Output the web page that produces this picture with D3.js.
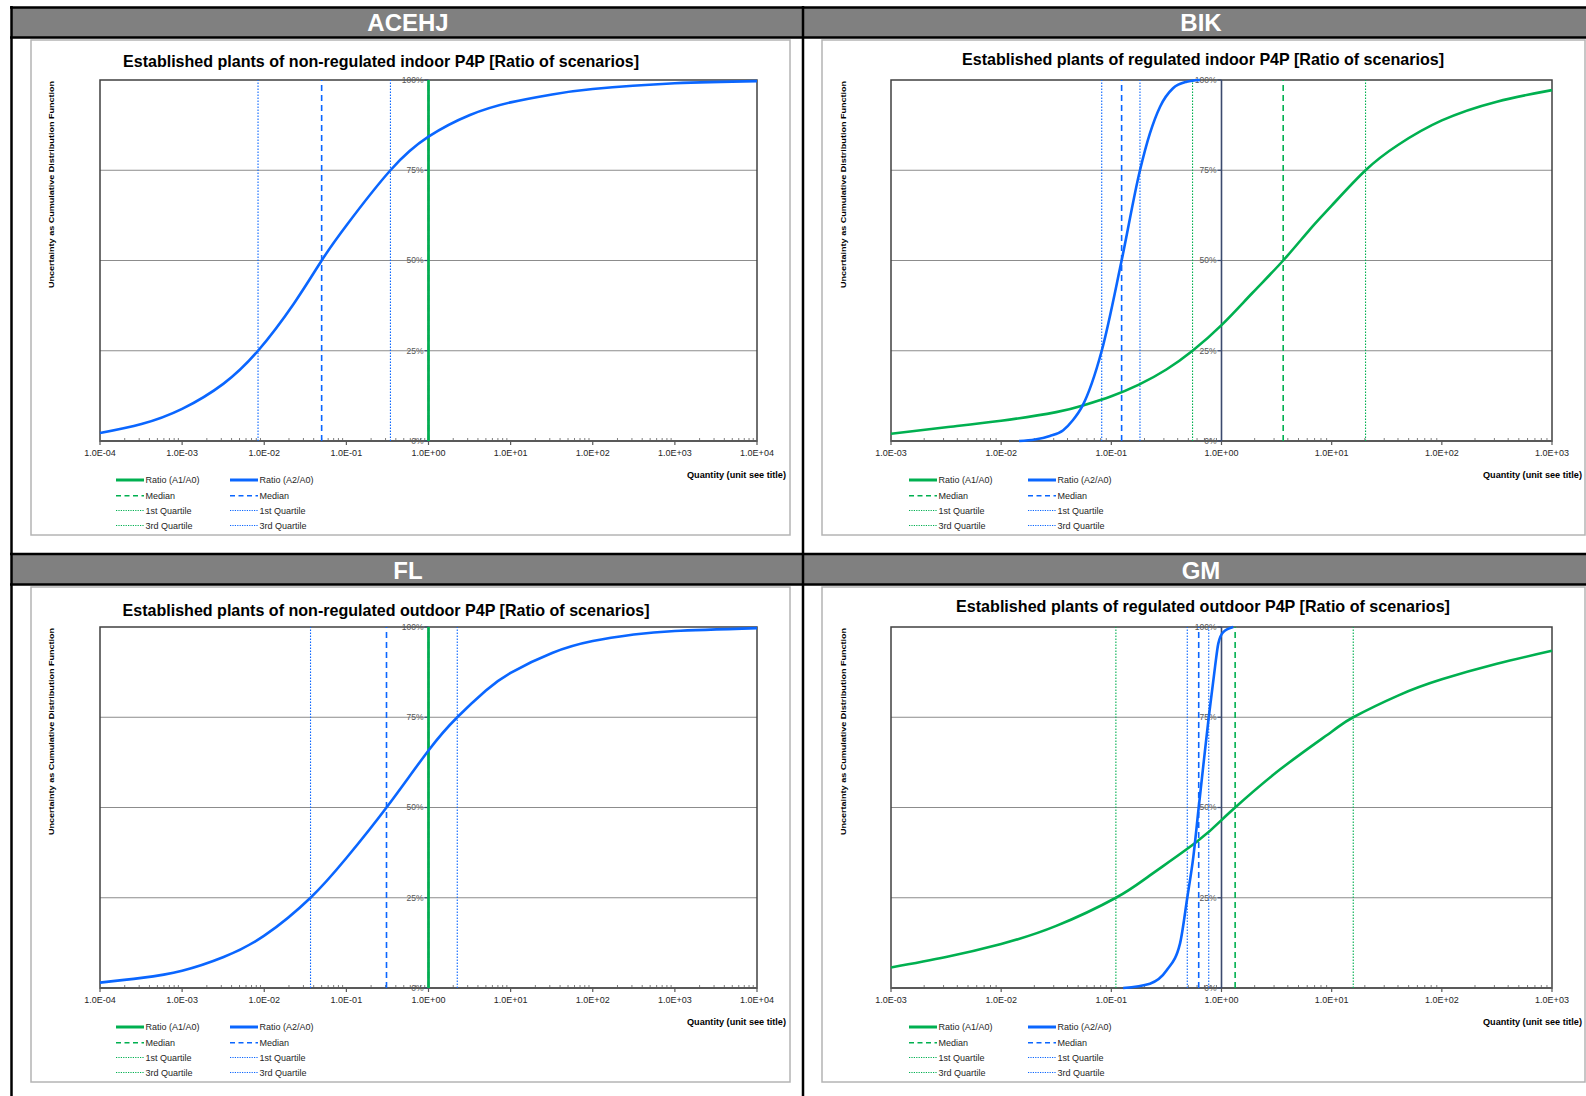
<!DOCTYPE html>
<html><head><meta charset="utf-8">
<script src="https://cdn.jsdelivr.net/npm/d3@7"></script>
<style>body{margin:0;background:#fff;} svg{display:block;} text{font-family:'Liberation Sans',Arial,sans-serif;}</style>
</head><body><svg id="c" width="1586" height="1096"></svg>
<script>
// ---------------- DATA ----------------
const panelNames = ["ACEHJ", "BIK", "FL", "GM"];
const chartTitles = [
  "Established plants of non-regulated indoor P4P [Ratio of scenarios]",
  "Established plants of regulated indoor P4P [Ratio of scenarios]",
  "Established plants of non-regulated outdoor P4P [Ratio of scenarios]",
  "Established plants of regulated outdoor P4P [Ratio of scenarios]"
];
const seriesNames = ["Ratio (A1/A0)", "Ratio (A2/A0)"];
const statNames = ["Median", "1st Quartile", "3rd Quartile"];
const yAxisTitle = "Uncertainty as  Cumulative Distribution Function";
const xAxisTitle = "Quantity (unit see title)";
const yTickValues = [0, 0.25, 0.5, 0.75, 1];
const yTickLabels = ["0%", "25%", "50%", "75%", "100%"];
const xTickValuesWide = [1e-4, 1e-3, 1e-2, 1e-1, 1, 1e1, 1e2, 1e3, 1e4];
const xTickLabelsWide = ["1.0E-04", "1.0E-03", "1.0E-02", "1.0E-01", "1.0E+00", "1.0E+01", "1.0E+02", "1.0E+03", "1.0E+04"];
const xTickValuesNarrow = [1e-3, 1e-2, 1e-1, 1, 1e1, 1e2, 1e3];
const xTickLabelsNarrow = ["1.0E-03", "1.0E-02", "1.0E-01", "1.0E+00", "1.0E+01", "1.0E+02", "1.0E+03"];

// ACEHJ  (A1/A0 is constant 1 -> vertical step)
const acehjGreenX = [1, 1];
const acehjGreenP = [0, 1];
const acehjBlueX = [0.0001, 0.00032, 0.001, 0.0032, 0.0084, 0.023, 0.050, 0.1, 0.344, 1, 3.2, 10, 32, 100, 1000, 10000];
const acehjBlueP = [0.022, 0.047, 0.089, 0.159, 0.25, 0.381, 0.50, 0.597, 0.75, 0.843, 0.903, 0.938, 0.960, 0.975, 0.991, 0.997];
const acehjGreenQ = [1, 1, 1];          // median, Q1, Q3
const acehjBlueQ = [0.050, 0.0084, 0.344];

// BIK
const bikGreenX = [0.001, 0.00316, 0.01, 0.0316, 0.0562, 0.1, 0.178, 0.316, 0.546, 1, 1.905, 3.63, 6.3, 10, 20.3, 40, 100, 316, 1000];
const bikGreenP = [0.02, 0.038, 0.056, 0.08, 0.099, 0.124, 0.156, 0.198, 0.25, 0.321, 0.41, 0.5, 0.585, 0.652, 0.75, 0.82, 0.888, 0.94, 0.972];
const bikBlueX = [0.0145, 0.0203, 0.0277, 0.0366, 0.0449, 0.0542, 0.0818, 0.124, 0.182, 0.224, 0.277, 0.363, 0.483, 0.638];
const bikBlueP = [0.0, 0.004, 0.014, 0.03, 0.058, 0.095, 0.25, 0.5, 0.75, 0.852, 0.926, 0.977, 0.995, 1.0];
const bikGreenQ = [3.63, 0.546, 20.3];
const bikBlueQ = [0.124, 0.0818, 0.182];

// FL
const flGreenX = [1, 1];
const flGreenP = [0, 1];
const flBlueX = [0.0001, 0.00032, 0.001, 0.0032, 0.01, 0.0366, 0.1, 0.308, 1, 2.24, 5, 10, 32, 100, 316, 1000, 10000];
const flBlueP = [0.015, 0.028, 0.048, 0.086, 0.145, 0.25, 0.36, 0.5, 0.658, 0.75, 0.824, 0.873, 0.928, 0.961, 0.979, 0.989, 0.997];
const flGreenQ = [1, 1, 1];
const flBlueQ = [0.308, 0.0366, 2.24];

// GM
const gmGreenX = [0.001, 0.00316, 0.01, 0.0316, 0.110, 0.224, 0.596, 1, 1.33, 3.39, 10, 15.7, 40, 100, 316, 1000];
const gmGreenP = [0.057, 0.086, 0.122, 0.172, 0.25, 0.312, 0.405, 0.465, 0.5, 0.605, 0.71, 0.75, 0.81, 0.855, 0.898, 0.934];
const gmBlueX = [0.128, 0.224, 0.318, 0.420, 0.489, 0.555, 0.621, 0.686, 0.766, 0.873, 0.935, 1.037, 1.28];
const gmBlueP = [0.0, 0.012, 0.049, 0.123, 0.25, 0.363, 0.5, 0.62, 0.75, 0.889, 0.954, 0.986, 1.0];
const gmGreenQ = [1.33, 0.110, 15.7];
const gmBlueQ = [0.621, 0.489, 0.766];

// ---------------- STYLE / LAYOUT ----------------
const GREEN = "#00b050", BLUE = "#0a66ff", NAVY = "#3b4a6e";
const panelData = [
  {gx: acehjGreenX, gp: acehjGreenP, bx: acehjBlueX, bp: acehjBlueP, gq: acehjGreenQ, bq: acehjBlueQ, tv: xTickValuesWide, tl: xTickLabelsWide},
  {gx: bikGreenX, gp: bikGreenP, bx: bikBlueX, bp: bikBlueP, gq: bikGreenQ, bq: bikBlueQ, tv: xTickValuesNarrow, tl: xTickLabelsNarrow},
  {gx: flGreenX, gp: flGreenP, bx: flBlueX, bp: flBlueP, gq: flGreenQ, bq: flBlueQ, tv: xTickValuesWide, tl: xTickLabelsWide},
  {gx: gmGreenX, gp: gmGreenP, bx: gmBlueX, bp: gmBlueP, gq: gmGreenQ, bq: gmBlueQ, tv: xTickValuesNarrow, tl: xTickLabelsNarrow}
];
const layout = [
  {bx: 31, by: 40, bw: 759, bh: 495, px0: 100, px1: 757, py0: 80, py1: 441, tx: 381, ty: 61, tw: 516, ylx: 51, lg1: 116, lg2: 230, qx: 786, hx: 408, steepBlue: false},
  {bx: 822, by: 40, bw: 763, bh: 495, px0: 891, px1: 1552, py0: 80, py1: 441, tx: 1203, ty: 59, tw: 482, ylx: 843, lg1: 909, lg2: 1028, qx: 1582, hx: 1201, steepBlue: true},
  {bx: 31, by: 587, bw: 759, bh: 495, px0: 100, px1: 757, py0: 627, py1: 988, tx: 386, ty: 610, tw: 527, ylx: 51, lg1: 116, lg2: 230, qx: 786, hx: 408, steepBlue: false},
  {bx: 822, by: 587, bw: 763, bh: 495, px0: 891, px1: 1552, py0: 627, py1: 988, tx: 1203, ty: 606, tw: 494, ylx: 843, lg1: 909, lg2: 1028, qx: 1582, hx: 1201, steepBlue: true}
];

const svg = d3.select("#c");

// frame and header bands
const headers = [{y0: 7.5, y1: 37.5, ty: 22.5}, {y0: 554, y1: 584.5, ty: 570}];
headers.forEach(h => {
  svg.append("rect").attr("x", 11).attr("y", h.y0).attr("width", 1586 - 11).attr("height", h.y1 - h.y0).attr("fill", "#808080");
  svg.append("line").attr("x1", 10).attr("x2", 1586).attr("y1", h.y0).attr("y2", h.y0).attr("stroke", "#000").attr("stroke-width", 2.5);
  svg.append("line").attr("x1", 10).attr("x2", 1586).attr("y1", h.y1).attr("y2", h.y1).attr("stroke", "#000").attr("stroke-width", 2.5);
});
svg.append("line").attr("x1", 11.5).attr("x2", 11.5).attr("y1", 6).attr("y2", 1096).attr("stroke", "#000").attr("stroke-width", 2.5);
svg.append("line").attr("x1", 803).attr("x2", 803).attr("y1", 6).attr("y2", 1096).attr("stroke", "#000").attr("stroke-width", 2.5);

panelNames.forEach((name, i) => {
  const L = layout[i], D = panelData[i];
  // header text
  const hy = i < 2 ? headers[0].ty : headers[1].ty;
  svg.append("text").attr("x", L.hx).attr("y", hy).attr("dy", "0.36em").attr("text-anchor", "middle")
    .attr("fill", "#fff").attr("font-weight", "bold").attr("font-size", 24).text(name);

  // chart box
  svg.append("rect").attr("x", L.bx).attr("y", L.by).attr("width", L.bw).attr("height", L.bh)
    .attr("fill", "#fff").attr("stroke", "#b4b4b4").attr("stroke-width", 1.5);

  // title
  svg.append("text").attr("x", L.tx).attr("y", L.ty).attr("dy", "0.36em").attr("text-anchor", "middle")
    .attr("font-weight", "bold").attr("font-size", 16.5).attr("fill", "#000")
    .attr("textLength", L.tw).attr("lengthAdjust", "spacingAndGlyphs").text(chartTitles[i]);

  const xDom = d3.extent(D.tv);
  const x = d3.scaleLog().domain(xDom).range([L.px0, L.px1]);
  const y = d3.scaleLinear().domain([0, 1]).range([L.py1, L.py0]);
  const g = svg.append("g");

  // gridlines
  g.selectAll(".grid").data(yTickValues.filter(v => v > 0 && v < 1)).join("line")
    .attr("x1", L.px0).attr("x2", L.px1).attr("y1", d => y(d)).attr("y2", d => y(d))
    .attr("stroke", "#8c8c8c").attr("stroke-width", 1);

  // plot border
  g.append("rect").attr("x", L.px0).attr("y", L.py0).attr("width", L.px1 - L.px0).attr("height", L.py1 - L.py0)
    .attr("fill", "none").attr("stroke", "#404040").attr("stroke-width", 1.5);

  // x axis: minor ticks
  const minors = [];
  for (let e = Math.round(Math.log10(xDom[0])); e < Math.round(Math.log10(xDom[1])); e++) {
    for (let k = 2; k < 10; k++) minors.push(k * Math.pow(10, e));
  }
  g.selectAll(".minor").data(minors).join("line")
    .attr("x1", d => x(d)).attr("x2", d => x(d)).attr("y1", L.py1 - 3).attr("y2", L.py1)
    .attr("stroke", "#7f7f7f").attr("stroke-width", 1);
  g.append("line").attr("x1", L.px0).attr("x2", L.px1).attr("y1", L.py1).attr("y2", L.py1)
    .attr("stroke", "#595959").attr("stroke-width", 1.8);
  g.selectAll(".major").data(D.tv).join("line")
    .attr("x1", d => x(d)).attr("x2", d => x(d)).attr("y1", L.py1).attr("y2", L.py1 + 4)
    .attr("stroke", "#595959").attr("stroke-width", 1.2);
  g.selectAll(".xl").data(D.tv).join("text")
    .attr("x", d => x(d)).attr("y", L.py1 + 12).attr("dy", "0.35em").attr("text-anchor", "middle")
    .attr("font-size", 9).attr("fill", "#262626").text((d, j) => D.tl[j]);

  // y axis at x = 1
  const ax = x(1);
  g.append("line").attr("x1", ax).attr("x2", ax).attr("y1", L.py1).attr("y2", L.py0)
    .attr("stroke", NAVY).attr("stroke-width", 1.6);
  g.selectAll(".yt").data(yTickValues).join("line")
    .attr("x1", ax - 4).attr("x2", ax).attr("y1", d => y(d)).attr("y2", d => y(d))
    .attr("stroke", NAVY).attr("stroke-width", 1.2);
  g.selectAll(".yl").data(yTickValues).join("text")
    .attr("x", ax - 5).attr("y", d => y(d)).attr("dy", "0.35em").attr("text-anchor", "end")
    .attr("font-size", 8.5).attr("fill", "#595959").text((d, j) => yTickLabels[j]);

  // quartile / median lines
  const qStyle = [{dash: "6,4", w: 1.6}, {dash: "1.5,1.5", w: 1.1}, {dash: "1.5,1.5", w: 1.1}];
  [[D.gq, GREEN], [D.bq, BLUE]].forEach(([qs, col]) => {
    qs.forEach((v, j) => {
      g.append("line").attr("x1", x(v)).attr("x2", x(v)).attr("y1", L.py1).attr("y2", L.py0)
        .attr("stroke", col).attr("stroke-width", qStyle[j].w).attr("stroke-dasharray", qStyle[j].dash);
    });
  });

  // CDF curves
  const drawCurve = (xs, ps, col, steep) => {
    const pts = xs.map((v, j) => [v, ps[j]]);
    const distinct = new Set(xs).size === xs.length;
    const curve = !distinct ? d3.curveLinear : (steep ? d3.curveMonotoneX : d3.curveNatural);
    const line = d3.line().x(d => x(d[0])).y(d => Math.max(L.py0, Math.min(L.py1, y(d[1])))).curve(curve);
    g.append("path").attr("d", line(pts)).attr("fill", "none").attr("stroke", col)
      .attr("stroke-width", 2.6).attr("stroke-linejoin", "round");
  };
  drawCurve(D.gx, D.gp, GREEN, false);
  drawCurve(D.bx, D.bp, BLUE, L.steepBlue);

  // y axis title
  const ylc = L.py0 + 104.5;
  svg.append("text").attr("transform", `translate(${L.ylx},${ylc}) rotate(-90)`).attr("dy", "0.35em")
    .attr("text-anchor", "middle").attr("font-size", 8).attr("font-weight", "bold").attr("fill", "#000")
    .attr("textLength", 207).attr("lengthAdjust", "spacingAndGlyphs").text(yAxisTitle);

  // x axis title
  svg.append("text").attr("x", L.qx).attr("y", L.py1 + 34).attr("dy", "0.35em").attr("text-anchor", "end")
    .attr("font-size", 8.5).attr("font-weight", "bold").attr("fill", "#000")
    .attr("textLength", 99).attr("lengthAdjust", "spacingAndGlyphs").text(xAxisTitle);

  // legend
  const rowY = [39, 54.7, 69.5, 84.5];
  const lstyles = [{dash: null, w: 3}, {dash: "5,3.5", w: 1.6}, {dash: "1.2,1.2", w: 1.1}, {dash: "1.2,1.2", w: 1.1}];
  [[L.lg1, GREEN, seriesNames[0]], [L.lg2, BLUE, seriesNames[1]]].forEach(([lx, col, sname]) => {
    const labels = [sname].concat(statNames);
    labels.forEach((lab, j) => {
      const yy = L.py1 + rowY[j];
      const ln = svg.append("line").attr("x1", lx).attr("x2", lx + 28).attr("y1", yy).attr("y2", yy)
        .attr("stroke", col).attr("stroke-width", lstyles[j].w);
      if (lstyles[j].dash) ln.attr("stroke-dasharray", lstyles[j].dash);
      svg.append("text").attr("x", lx + 29.5).attr("y", yy).attr("dy", "0.35em").attr("font-size", 9)
        .attr("fill", "#262626").text(lab);
    });
  });
});
</script></body></html>
